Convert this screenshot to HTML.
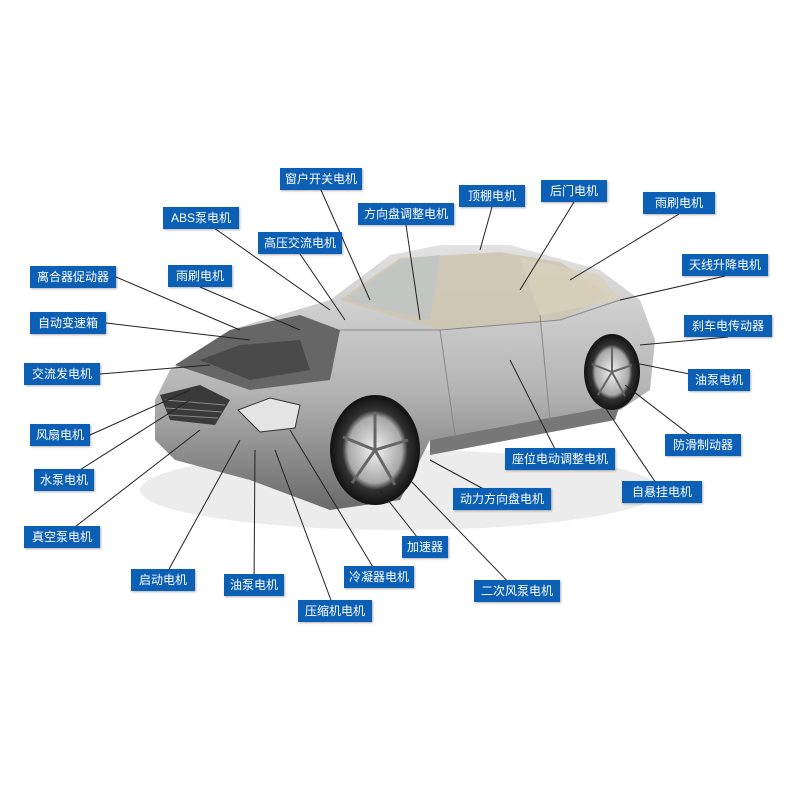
<!DOCTYPE html>
<html><head><meta charset="utf-8"><style>
body{margin:0;width:790px;height:790px;background:#fff;position:relative;overflow:hidden;font-family:"Liberation Sans","Noto Sans CJK SC",sans-serif}
.l{position:absolute;height:22px;line-height:22px;background:#0b5fb5;color:#fff;font-size:12px;text-align:center;white-space:nowrap;box-shadow:1px 1px 2px rgba(0,0,0,.3)}
svg{position:absolute;left:0;top:0}
</style></head><body>
<svg width="790" height="790">
<defs>
<linearGradient id="b" x1="0" y1="0" x2="0" y2="1"><stop offset="0" stop-color="#e2e2e2"/><stop offset=".55" stop-color="#b4b4b4"/><stop offset="1" stop-color="#6a6a6a"/></linearGradient>
<radialGradient id="w"><stop offset="0" stop-color="#f2f2f2"/><stop offset=".6" stop-color="#a8a8a8"/><stop offset=".72" stop-color="#333"/><stop offset="1" stop-color="#111"/></radialGradient>
</defs>
<ellipse cx="400" cy="490" rx="260" ry="40" fill="#ececec"/>
<path d="M155,400 L170,370 L230,330 L330,300 L390,255 L440,245 L510,245 L600,270 L640,300 L655,340 L650,390 L620,410 L430,440 L400,500 L330,510 L250,480 L175,460 L155,440 Z" fill="url(#b)"/>
<path d="M430,440 L620,405 L615,420 L430,455 Z" fill="#777"/>
<path d="M340,300 L400,258 L500,252 L560,262 L610,295 L560,320 L440,330 Z" fill="#cfc6b0" opacity=".85"/>
<path d="M345,300 L400,260 L440,255 L430,320 Z" fill="#bcc4c8" opacity=".7"/>
<path d="M520,258 L600,275 L620,300 L540,315 Z" fill="#d8d0bc" opacity=".8"/>
<g stroke="#888" fill="none"><path d="M440,330 L455,435"/><path d="M540,315 L550,420"/><path d="M340,330 L440,330 L560,320 L620,300"/></g>
<path d="M175,365 L230,330 L300,315 L340,330 L330,380 L250,390 Z" fill="#666"/>
<path d="M200,360 L240,345 L300,340 L310,370 L250,380 Z" fill="#4a4a4a"/>
<path d="M160,395 L200,385 L230,400 L215,425 L170,420 Z" fill="#3a3a3a"/>
<g stroke="#888"><path d="M165,400 L225,405"/><path d="M166,408 L222,412"/><path d="M168,415 L218,418"/></g>
<path d="M238,410 L270,398 L300,405 L295,428 L260,432 Z" fill="#e4e4e4" stroke="#333"/>
<ellipse cx="375" cy="450" rx="45" ry="55" fill="url(#w)"/>
<g stroke="#666" stroke-width="3"><path d="M375,450 L375,412"/><path d="M375,450 L408,440"/><path d="M375,450 L395,485"/><path d="M375,450 L352,483"/><path d="M375,450 L343,437"/></g>
<ellipse cx="612" cy="372" rx="28" ry="38" fill="url(#w)"/>
<g stroke="#666" stroke-width="2"><path d="M612,372 L612,346"/><path d="M612,372 L632,365"/><path d="M612,372 L625,396"/><path d="M612,372 L598,395"/><path d="M612,372 L592,364"/></g>
<g stroke="#222" stroke-width="1" fill="none">
<path d="M321,190 L370,300"/><path d="M200,218 L330,310"/><path d="M492,207 L480,250"/><path d="M574,202 L520,290"/><path d="M406,225 L420,320"/><path d="M679,214 L570,280"/><path d="M300,254 L345,320"/><path d="M725,276 L620,300"/><path d="M116,277 L240,330"/><path d="M200,287 L300,330"/><path d="M106,323 L250,340"/><path d="M728,337 L640,345"/><path d="M100,374 L210,365"/><path d="M719,380 L630,362"/><path d="M90,435 L190,390"/><path d="M703,445 L625,385"/><path d="M64,480 L190,400"/><path d="M560,459 L510,360"/><path d="M662,492 L600,400"/><path d="M502,499 L430,460"/><path d="M62,537 L200,430"/><path d="M425,547 L380,490"/><path d="M163,580 L240,440"/><path d="M254,585 L255,450"/><path d="M379,577 L290,430"/><path d="M517,591 L410,480"/><path d="M335,611 L275,450"/>
</g>
</svg>
<div class="l" style="left:280px;top:168px;width:82px">窗户开关电机</div>
<div class="l" style="left:163px;top:207px;width:76px">ABS泵电机</div>
<div class="l" style="left:459px;top:185px;width:66px">顶棚电机</div>
<div class="l" style="left:541px;top:180px;width:66px">后门电机</div>
<div class="l" style="left:358px;top:203px;width:96px">方向盘调整电机</div>
<div class="l" style="left:643px;top:192px;width:72px">雨刷电机</div>
<div class="l" style="left:258px;top:232px;width:84px">高压交流电机</div>
<div class="l" style="left:682px;top:254px;width:86px">天线升降电机</div>
<div class="l" style="left:30px;top:266px;width:86px">离合器促动器</div>
<div class="l" style="left:168px;top:265px;width:64px">雨刷电机</div>
<div class="l" style="left:30px;top:312px;width:76px">自动变速箱</div>
<div class="l" style="left:684px;top:315px;width:88px">刹车电传动器</div>
<div class="l" style="left:24px;top:363px;width:76px">交流发电机</div>
<div class="l" style="left:688px;top:369px;width:62px">油泵电机</div>
<div class="l" style="left:30px;top:424px;width:60px">风扇电机</div>
<div class="l" style="left:665px;top:434px;width:76px">防滑制动器</div>
<div class="l" style="left:34px;top:469px;width:60px">水泵电机</div>
<div class="l" style="left:505px;top:448px;width:110px">座位电动调整电机</div>
<div class="l" style="left:622px;top:481px;width:80px">自悬挂电机</div>
<div class="l" style="left:453px;top:488px;width:98px">动力方向盘电机</div>
<div class="l" style="left:24px;top:526px;width:76px">真空泵电机</div>
<div class="l" style="left:402px;top:536px;width:46px">加速器</div>
<div class="l" style="left:131px;top:569px;width:64px">启动电机</div>
<div class="l" style="left:224px;top:574px;width:60px">油泵电机</div>
<div class="l" style="left:344px;top:566px;width:70px">冷凝器电机</div>
<div class="l" style="left:474px;top:580px;width:86px">二次风泵电机</div>
<div class="l" style="left:298px;top:600px;width:74px">压缩机电机</div>
</body></html>
